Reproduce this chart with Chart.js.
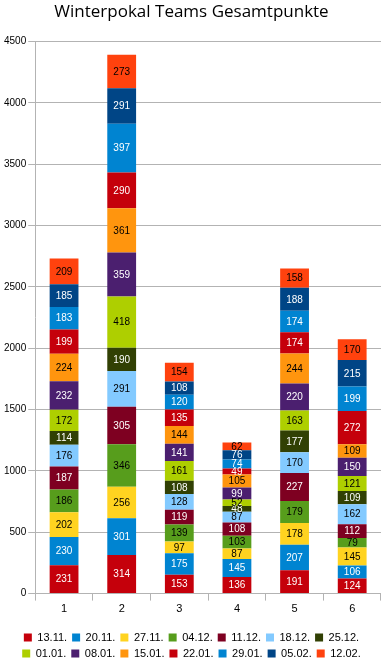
<!DOCTYPE html>
<html>
<head>
<meta charset="utf-8">
<script src="https://cdn.jsdelivr.net/npm/chart.js@4"></script>
<style>
  html, body { margin: 0; padding: 0; background: #fff; }
  #wrap { width: 381px; height: 661px; position: relative; }
</style>
</head>
<body>
<div id="wrap"><canvas id="chart"></canvas></div>
<script>
const teams = ["1", "2", "3", "4", "5", "6"];
const weeks = ["13.11.", "20.11.", "27.11.", "04.12.", "11.12.", "18.12.", "25.12.",
  "01.01.", "08.01.", "15.01.", "22.01.", "29.01.", "05.02.", "12.02."];

// points per team, one array per week
const w1311 = [231, 314, 153, 136, 191, 124];
const w2011 = [230, 301, 175, 145, 207, 106];
const w2711 = [202, 256, 97, 87, 178, 145];
const w0412 = [186, 346, 139, 103, 179, 79];
const w1112 = [187, 305, 119, 108, 227, 112];
const w1812 = [176, 291, 128, 87, 170, 162];
const w2512 = [114, 190, 108, 48, 177, 109];
const w0101 = [172, 418, 161, 52, 163, 121];
const w0801 = [232, 359, 141, 99, 220, 150];
const w1501 = [224, 361, 144, 105, 244, 109];
const w2201 = [199, 290, 135, 49, 174, 272];
const w2901 = [183, 397, 120, 74, 174, 199];
const w0502 = [185, 291, 108, 76, 188, 215];
const w1202 = [209, 273, 154, 62, 158, 170];

const weekValues = [w1311, w2011, w2711, w0412, w1112, w1812, w2512,
  w0101, w0801, w1501, w2201, w2901, w0502, w1202];

const weekColors = ["#c5000b", "#0084d1", "#ffd320", "#579d1c", "#7e0021", "#83caff", "#314004",
  "#aecf00", "#4b1f6f", "#ff950e", "#c5000b", "#0084d1", "#004586", "#ff420e"];
const labelColors = ["#fff", "#fff", "#000", "#000", "#fff", "#000", "#fff",
  "#000", "#fff", "#000", "#fff", "#fff", "#fff", "#000"];

const yTicks = [0, 500, 1000, 1500, 2000, 2500, 3000, 3500, 4000, 4500];

const FONT = "\"Liberation Sans\", Arial, sans-serif";
const TITLE_FONT = "\"Open Sans\", \"DejaVu Sans\", sans-serif";

// draws the value in the middle of each segment
const segmentLabels = {
  id: "segmentLabels",
  afterDatasetsDraw(chart) {
    const ctx = chart.ctx;
    ctx.save();
    ctx.font = "10px " + FONT;
    ctx.textAlign = "center";
    ctx.textBaseline = "middle";
    chart.data.datasets.forEach((ds, di) => {
      const meta = chart.getDatasetMeta(di);
      meta.data.forEach((bar, i) => {
        const v = ds.data[i];
        const yMid = (bar.y + bar.base) / 2;
        ctx.fillStyle = labelColors[di];
        ctx.fillText(String(v), bar.x, yMid + 0.5);
      });
    });
    ctx.restore();
  }
};

new Chart(document.getElementById("chart"), {
  type: "bar",
  data: {
    labels: teams,
    datasets: weeks.map((w, i) => ({
      label: w,
      data: weekValues[i],
      backgroundColor: weekColors[i],
      borderWidth: 0,
      barPercentage: 0.5,
      categoryPercentage: 1
    }))
  },
  options: {
    responsive: true,
    maintainAspectRatio: false,
    animation: false,
    // legend keeps 10px empty below its rows, let that part fall off the canvas
    layout: { padding: { left: 2, right: 0, top: 2, bottom: -8 } },
    plugins: {
      title: {
        display: true,
        text: "Winterpokal Teams Gesamtpunkte",
        color: "#000",
        font: { family: TITLE_FONT, size: 17, weight: "normal" },
        padding: { top: 0, bottom: 19 }
      },
      legend: {
        position: "bottom",
        title: { display: true, text: "", font: { size: 1 }, padding: { top: 0, bottom: 8 } },
        labels: {
          boxWidth: 8,
          boxHeight: 8,
          padding: 5,
          color: "#000",
          font: { family: FONT, size: 11 }
        }
      },
      tooltip: { enabled: false }
    },
    scales: {
      x: {
        stacked: true,
        grid: { display: true, drawOnChartArea: false, tickLength: 7, color: "#b3b3b3" },
        border: { color: "#b3b3b3" },
        ticks: { color: "#000", font: { family: FONT, size: 11 }, padding: 2 }
      },
      y: {
        stacked: true,
        min: 0,
        max: 4500,
        afterBuildTicks: (axis) => { axis.ticks = yTicks.map((v) => ({ value: v })); },
        grid: { color: "#b3b3b3", tickLength: 7 },
        border: { color: "#b3b3b3" },
        ticks: {
          color: "#000",
          font: { family: FONT, size: 10 },
          padding: 2,
          callback: (v) => String(v)
        }
      }
    }
  },
  plugins: [segmentLabels]
});
</script>
</body>
</html>
